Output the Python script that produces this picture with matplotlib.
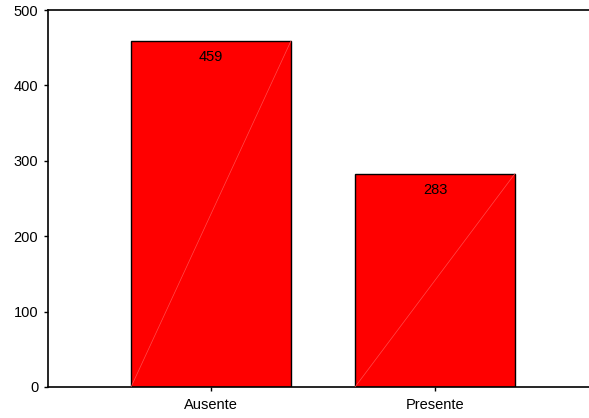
import matplotlib
matplotlib.use("Agg")
import matplotlib.pyplot as plt

# conteo por categoria
categorias = ["Ausente", "Presente"]
conteos = [459, 283]
ticks_y = [0, 100, 200, 300, 400, 500]

plt.rcParams['font.family'] = ['Liberation Sans', 'DejaVu Sans']

fig = plt.figure(figsize=(5.89, 4.18), dpi=100)
ax = fig.add_axes([48/589, 31/418, 1 - 48/589, 377/418])

pos = list(range(len(categorias)))
ancho = 0.714
ax.bar(pos, conteos, width=ancho, color="#ff0000", edgecolor="black", linewidth=1.0, zorder=2)

# linea diagonal tenue dentro de cada barra
for x, v in zip(pos, conteos):
    ax.plot([x - ancho/2, x + ancho/2], [0, v], color="#ff4c4c", linewidth=0.5, zorder=3)
    ax.annotate(str(v), (x, v), xytext=(0, -16), textcoords="offset pixels",
                ha="center", va="center", fontsize=10.5, color="black", zorder=4)

ax.set_xlim(-0.7277, 1.6875)
ax.set_ylim(0, 500)
ax.set_yticks(ticks_y)
ax.set_xticks(pos)
ax.set_xticklabels(categorias)

ax.spines['right'].set_visible(False)
for s in ['left', 'top', 'bottom']:
    ax.spines[s].set_linewidth(1.2)
    ax.spines[s].set_color("black")

ax.tick_params(axis='both', labelsize=10.5, length=3, width=1, pad=4, direction='out')
ax.tick_params(axis='x', pad=5)

fig.savefig("out.png", dpi=100)
